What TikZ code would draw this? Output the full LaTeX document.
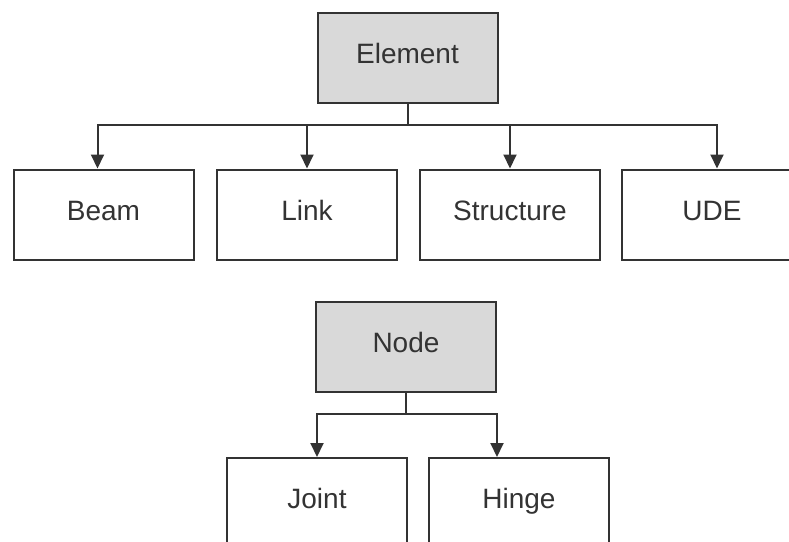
\documentclass[tikz,border=0pt]{standalone}
\usepackage{fontspec}
\setmainfont{Liberation Sans}
\usetikzlibrary{arrows.meta}

\definecolor{boxline}{HTML}{333333}
\definecolor{boxfill}{HTML}{D9D9D9}

\newcommand*{\picw}{789}
\newcommand*{\pich}{542}

\begin{document}
\begin{tikzpicture}
[
	x=0.5pt, y=-0.5pt,
	classbox/.style={rectangle,draw=boxline,line width=1pt,fill=white,
		minimum width=90pt,minimum height=45pt,inner sep=0pt,
		text height=1.6ex,text depth=0.5ex,
		font=\fontsize{14}{17}\selectfont,text=black!80},
	basebox/.style={classbox,fill=boxfill},
	arr/.style={-{Triangle[width=6.5pt,length=7pt]},draw=boxline,line width=1pt}
]

	% frame
	\clip (0,0) rectangle (\picw,\pich);

	% element tree
	\node[basebox] at (407.5,58) (element) {Element};
	\node[classbox] at (103.5,214.5) (beam) {Beam};
	\node[classbox] at (307,214.5) (link) {Link};
	\node[classbox] at (510,214.5) (structure) {Structure};
	\node[classbox] at (712,214.5) (ude) {UDE};
	\coordinate (ebus) at (0,125);
	%
	\draw[arr] (element.south) -- (element.south |- ebus) -| ([xshift=-3pt]beam.north);
	\draw[arr] (element.south) -- (element.south |- ebus) -| (link.north);
	\draw[arr] (element.south) -- (element.south |- ebus) -| (structure.north);
	\draw[arr] (element.south) -- (element.south |- ebus) -| ([xshift=2.5pt]ude.north);

	% node tree
	\node[basebox] at (406,347) (node) {Node};
	\node[classbox] at (317,503) (joint) {Joint};
	\node[classbox] at (519,503) (hinge) {Hinge};
	\coordinate (nbus) at (0,414);
	%
	\draw[arr] (node.south) -- (node.south |- nbus) -| (joint.north);
	\draw[arr] (node.south) -- (node.south |- nbus) -| (hinge.north -| node.east);

\end{tikzpicture}
\end{document}
